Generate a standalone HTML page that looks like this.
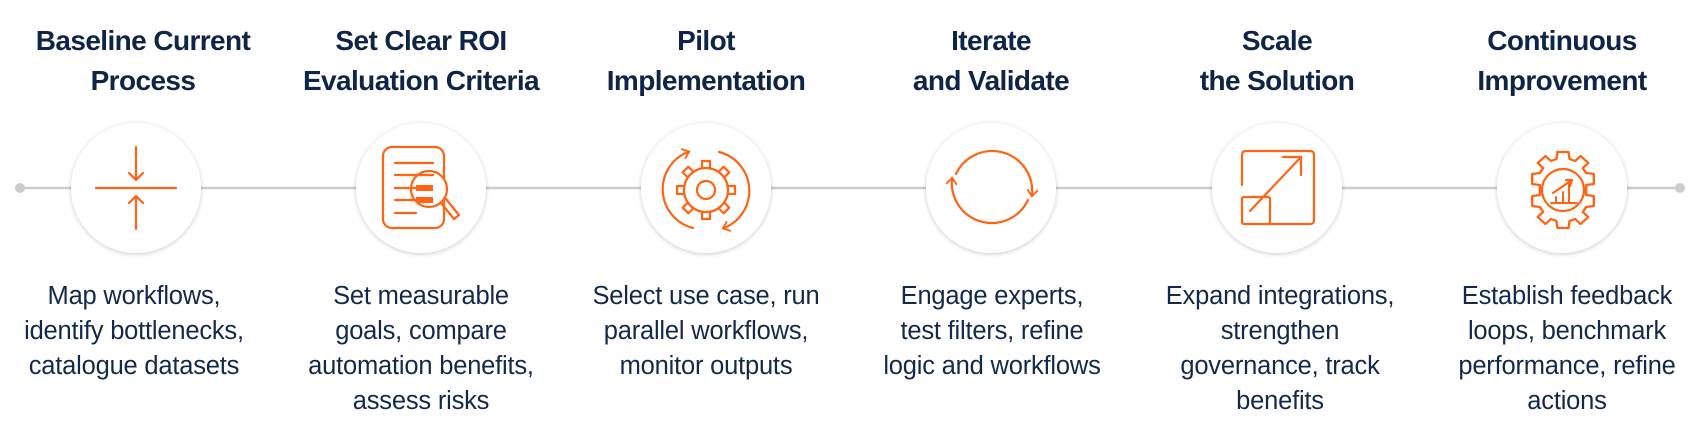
<!DOCTYPE html>
<html><head><meta charset="utf-8"><style>
html,body{margin:0;padding:0;background:#fff;}
body{width:1700px;height:436px;position:relative;overflow:hidden;font-family:"Liberation Sans",sans-serif;}
.t{position:absolute;top:21px;width:300px;text-align:center;font-weight:bold;font-size:28px;line-height:40px;color:#0f2447;letter-spacing:-0.6px;}
.d{position:absolute;top:279px;width:300px;text-align:center;font-size:25.5px;line-height:35px;color:#13294b;letter-spacing:-0.2px;}
svg{position:absolute;left:0;top:0;}
</style></head><body>
<svg width="1700" height="436" viewBox="0 0 1700 436">
<defs>
<filter id="sh" x="-30%" y="-30%" width="160%" height="160%"><feGaussianBlur in="SourceAlpha" stdDeviation="2.5"/><feOffset dy="1"/><feComponentTransfer><feFuncA type="linear" slope="0.22"/></feComponentTransfer><feMerge><feMergeNode/><feMergeNode in="SourceGraphic"/></feMerge></filter>
<marker id="ah" viewBox="0 0 10 10" refX="5" refY="5" markerWidth="6" markerHeight="6" orient="auto-start-reverse"><path d="M1,1 L6,5 L1,9" fill="none" stroke="#ff6313" stroke-width="1.4"/></marker>
</defs>
<line x1="20" y1="188" x2="1680" y2="188" stroke="#cccccc" stroke-width="2.5"/>
<circle cx="20" cy="188" r="5" fill="#cccccc"/>
<circle cx="1680" cy="188" r="5" fill="#cccccc"/>
<g fill="#fff" filter="url(#sh)">
<circle cx="136" cy="188" r="65"/><circle cx="421" cy="188" r="65"/><circle cx="706" cy="188" r="65"/>
<circle cx="991" cy="188" r="65"/><circle cx="1277" cy="188" r="65"/><circle cx="1562" cy="188" r="65"/>
</g>
<g fill="none" stroke="#ff6313" stroke-width="2.2" stroke-linecap="round" stroke-linejoin="round">
<g transform="translate(136,188)">
<line x1="-40" y1="0" x2="40" y2="0"/>
<line x1="0" y1="-41" x2="0" y2="-8"/><path d="M-7,-15 L0,-8 L7,-15"/>
<line x1="0" y1="41" x2="0" y2="8"/><path d="M-7,15 L0,8 L7,15"/>
</g>
<g transform="translate(421,188)">
<rect x="-38" y="-41" width="61" height="81" rx="9"/>
<line x1="-26" y1="-25" x2="12" y2="-25"/>
<line x1="-26" y1="-13" x2="12" y2="-13"/>
<line x1="-26" y1="0" x2="12" y2="0"/>
<line x1="-26" y1="12" x2="12" y2="12"/>
<line x1="-26" y1="25" x2="-5" y2="25"/>
<circle cx="8" cy="1" r="18" fill="#fff"/>
<line x1="-5" y1="-13" x2="12" y2="-13"/>
<rect x="-5" y="-3" width="17" height="6" fill="#ff6313" stroke="none"/>
<rect x="-5" y="9" width="17" height="6" fill="#ff6313" stroke="none"/>
<line x1="-12" y1="0" x2="-5" y2="0"/>
<line x1="-12" y1="12" x2="-5" y2="12"/>
<path d="M20,15 L33,31 L38,27 L25,11"/>
</g>
<g transform="translate(706,190)">
<circle r="9"/>
<circle r="22"/>
<g>
<path d="M-4,-22 L-4,-29 L4,-29 L4,-22"/>
<path d="M-4,-22 L-4,-29 L4,-29 L4,-22" transform="rotate(45)"/>
<path d="M-4,-22 L-4,-29 L4,-29 L4,-22" transform="rotate(90)"/>
<path d="M-4,-22 L-4,-29 L4,-29 L4,-22" transform="rotate(135)"/>
<path d="M-4,-22 L-4,-29 L4,-29 L4,-22" transform="rotate(180)"/>
<path d="M-4,-22 L-4,-29 L4,-29 L4,-22" transform="rotate(225)"/>
<path d="M-4,-22 L-4,-29 L4,-29 L4,-22" transform="rotate(270)"/>
<path d="M-4,-22 L-4,-29 L4,-29 L4,-22" transform="rotate(315)"/>
</g>
<path d="M-13,38 A40,40 0 0 1 -18,-38" marker-end="url(#ah)"/>
<path d="M13,-38 A40,40 0 0 1 18,38" marker-end="url(#ah)"/>
</g>
<g transform="translate(992,187)">
<path d="M-36,-13 A40,40 0 0 1 40,8" marker-end="url(#ah)"/>
<path d="M36,13 A40,40 0 0 1 -40,-8" marker-end="url(#ah)"/>
</g>
<g transform="translate(1277,188)">
<path d="M-35,-3 L-35,-33 Q-35,-37 -31,-37 L33,-37 Q37,-37 37,-33 L37,32 Q37,36 33,36 L-10,36"/>
<rect x="-35" y="9" width="28" height="27" rx="2"/>
<line x1="-27" y1="23" x2="24" y2="-31"/>
<path d="M6,-31 L24,-31 L24,-13"/>
</g>
<g transform="translate(1563,190)">
<circle r="21"/>
<path d="M-12,13 L14,13" stroke-width="2"/>
<path d="M-7,13 L-7,7 M0,13 L0,2 M6,13 L6,-6" stroke-width="2"/>
<path d="M-10,3 L9,-10" /><path d="M3,-10 L9,-10 L7,-4"/>
<path d="M-6,-31 L-5,-38 L5,-38 L6,-31 L11,-29 L16,-34 L23,-27 L18,-22 L21,-17 L28,-16 L28,-6 L21,-5 L21,5 L28,6 L28,16 L21,17 L18,22 L23,27 L16,34 L11,29 L6,31 L5,38 L-5,38 L-6,31 L-11,29 L-16,34 L-23,27 L-18,22 L-21,17 L-28,16 L-28,6 L-21,5 L-21,-5 L-28,-6 L-28,-16 L-21,-17 L-18,-22 L-23,-27 L-16,-34 L-11,-29 Z" transform="scale(1.1,1.0)"/>
</g>
</g>
</svg>
<div class="t" style="left:-7px">Baseline Current<br>Process</div>
<div class="t" style="left:271px">Set Clear ROI<br>Evaluation Criteria</div>
<div class="t" style="left:556px">Pilot<br>Implementation</div>
<div class="t" style="left:841px">Iterate<br>and Validate</div>
<div class="t" style="left:1127px">Scale<br>the Solution</div>
<div class="t" style="left:1412px">Continuous<br>Improvement</div>
<div class="d" style="left:-16px">Map workflows,<br>identify bottlenecks,<br>catalogue datasets</div>
<div class="d" style="left:271px">Set measurable<br>goals, compare<br>automation benefits,<br>assess risks</div>
<div class="d" style="left:556px">Select use case, run<br>parallel workflows,<br>monitor outputs</div>
<div class="d" style="left:842px">Engage experts,<br>test filters, refine<br>logic and workflows</div>
<div class="d" style="left:1130px">Expand integrations,<br>strengthen<br>governance, track<br>benefits</div>
<div class="d" style="left:1417px">Establish feedback<br>loops, benchmark<br>performance, refine<br>actions</div>
</body></html>
